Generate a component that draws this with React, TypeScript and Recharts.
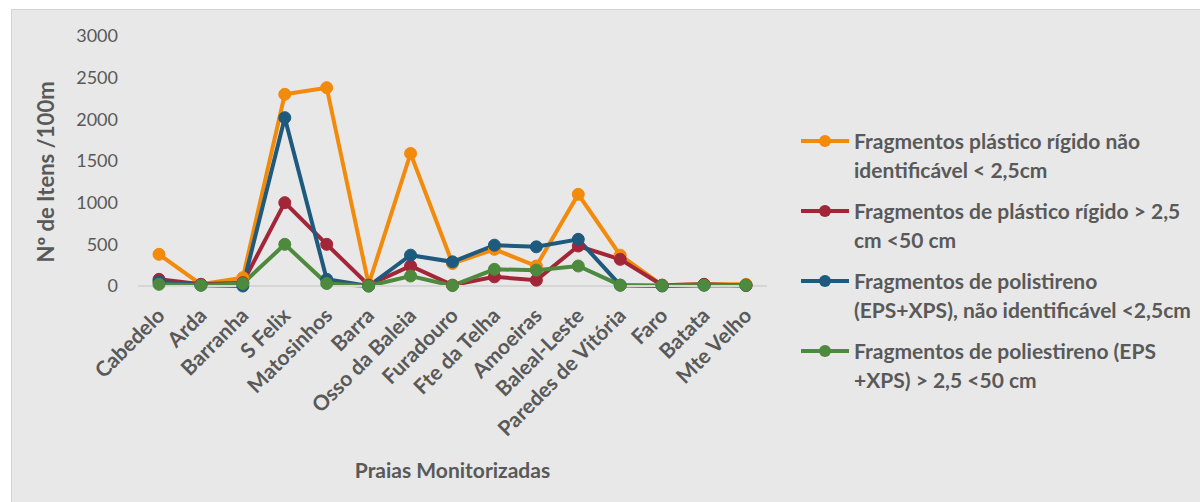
import React from 'react';
import { LineChart, Line, XAxis, YAxis, Label } from 'recharts';

// Praias monitorizadas (categorias)
const praias = [
  'Cabedelo', 'Arda', 'Barranha', 'S Felix', 'Matosinhos', 'Barra', 'Osso da Baleia',
  'Furadouro', 'Fte da Telha', 'Amoeiras', 'Baleal-Leste', 'Paredes de Vitória',
  'Faro', 'Batata', 'Mte Velho',
];

// itens /100m
const plasticoRigidoPeq = [380, 20, 100, 2300, 2380, 20, 1590, 270, 440, 240, 1100, 370, 10, 20, 20];
const plasticoRigidoGrande = [80, 20, 40, 1000, 500, 10, 240, 10, 110, 70, 480, 320, 10, 20, 5];
const polistirenoPeq = [50, 10, 0, 2020, 80, 0, 370, 290, 490, 470, 560, 10, 0, 10, 10];
const polistirenoGrande = [20, 10, 30, 500, 30, 0, 120, 5, 200, 190, 240, 10, 5, 10, 10];

const yTicks = [0, 500, 1000, 1500, 2000, 2500, 3000];

const series = [
  { key: 'a', name: 'Fragmentos plástico rígido não identificável < 2,5cm',
    lines: ['Fragmentos plástico rígido não', 'identificável < 2,5cm'], color: '#F28A0C' },
  { key: 'b', name: 'Fragmentos de plástico rígido > 2,5 cm <50 cm',
    lines: ['Fragmentos de plástico rígido > 2,5', 'cm <50 cm'], color: '#A22638' },
  { key: 'c', name: 'Fragmentos de polistireno (EPS+XPS), não identificável <2,5cm',
    lines: ['Fragmentos de polistireno', '(EPS+XPS), não identificável <2,5cm'], color: '#1D5A7E' },
  { key: 'd', name: 'Fragmentos de poliestireno (EPS +XPS) > 2,5 <50 cm',
    lines: ['Fragmentos de poliestireno (EPS', '+XPS) > 2,5 <50 cm'], color: '#4D8A3D' },
];

const data = praias.map((p, i) => ({
  praia: p,
  a: plasticoRigidoPeq[i],
  b: plasticoRigidoGrande[i],
  c: polistirenoPeq[i],
  d: polistirenoGrande[i],
}));

const FONT = 'Lato, "Open Sans", sans-serif';
const GREY = '#595959';

function PraiaTick(props: any) {
  const { x, y, payload } = props;
  const tx = x + 1;
  const ty = y + 17;
  return (
    <text
      x={tx}
      y={ty}
      transform={`rotate(-45, ${tx}, ${ty})`}
      textAnchor="end"
      dominantBaseline="central"
      fill={GREY}
      fontFamily={FONT}
      fontSize={21}
      fontWeight={700}
    >
      {payload.value}
    </text>
  );
}

function YTitle() {
  const cx = 33;
  const cy = 162;
  return (
    <text
      x={cx}
      y={cy}
      transform={`rotate(-90, ${cx}, ${cy})`}
      textAnchor="middle"
      dominantBaseline="central"
      fill={GREY}
      fontFamily={FONT}
      fontSize={22}
      fontWeight={700}
    >
      Nº de Itens /100m
    </text>
  );
}

export default function App() {
  return (
    <div style={{ position: 'absolute', left: 0, top: 0, width: 1200, height: 502, background: '#fff', overflow: 'hidden' }}>
      <div
        style={{
          position: 'absolute', left: 11, top: 9, width: 1189, height: 493,
          background: '#E8E8E8', borderLeft: '1px solid #D4D4D4', borderTop: '1px solid #D4D4D4',
        }}
      >
        <LineChart width={1188} height={492} data={data} margin={{ top: 26, right: 433, bottom: 0, left: 0 }}>
          <XAxis
            dataKey="praia"
            interval={0}
            height={216}
            padding={{ left: 21, right: 21 }}
            tickLine={false}
            axisLine={{ stroke: '#D6D6D6', strokeWidth: 2 }}
            tick={<PraiaTick />}
          >
            <Label
              value="Praias Monitorizadas"
              position="insideBottom"
              offset={24}
              fill={GREY}
              fontFamily={FONT}
              fontSize={21}
              fontWeight={700}
            />
          </XAxis>
          <YAxis
            width={126}
            domain={[0, 3000]}
            ticks={yTicks}
            tickLine={false}
            axisLine={false}
            tickSize={0}
            tickMargin={20}
            tick={{ fill: GREY, fontFamily: FONT, fontSize: 18 }}
          >
            <Label content={<YTitle />} />
          </YAxis>
          {series.map((s) => (
            <Line
              key={s.key}
              type="linear"
              dataKey={s.key}
              name={s.name}
              stroke={s.color}
              strokeWidth={4}
              dot={{ r: 6, fill: s.color, stroke: s.color, strokeWidth: 1 }}
              activeDot={false}
              isAnimationActive={false}
            />
          ))}
        </LineChart>
        <div style={{ position: 'absolute', left: 789, top: 116, fontFamily: FONT, color: GREY }}>
          {series.map((s) => (
            <div key={s.key} style={{ display: 'flex', alignItems: 'flex-start', marginBottom: 12 }}>
              <svg width={53} height={29} style={{ flex: 'none' }}>
                <line x1={0} y1={15} x2={48} y2={15} stroke={s.color} strokeWidth={4} />
                <circle cx={24} cy={15} r={6} fill={s.color} />
              </svg>
              <div style={{ fontSize: 21, fontWeight: 700, lineHeight: '29px', whiteSpace: 'nowrap' }}>
                {s.lines.map((l, i) => (
                  <div key={i}>{l}</div>
                ))}
              </div>
            </div>
          ))}
        </div>
      </div>
    </div>
  );
}
